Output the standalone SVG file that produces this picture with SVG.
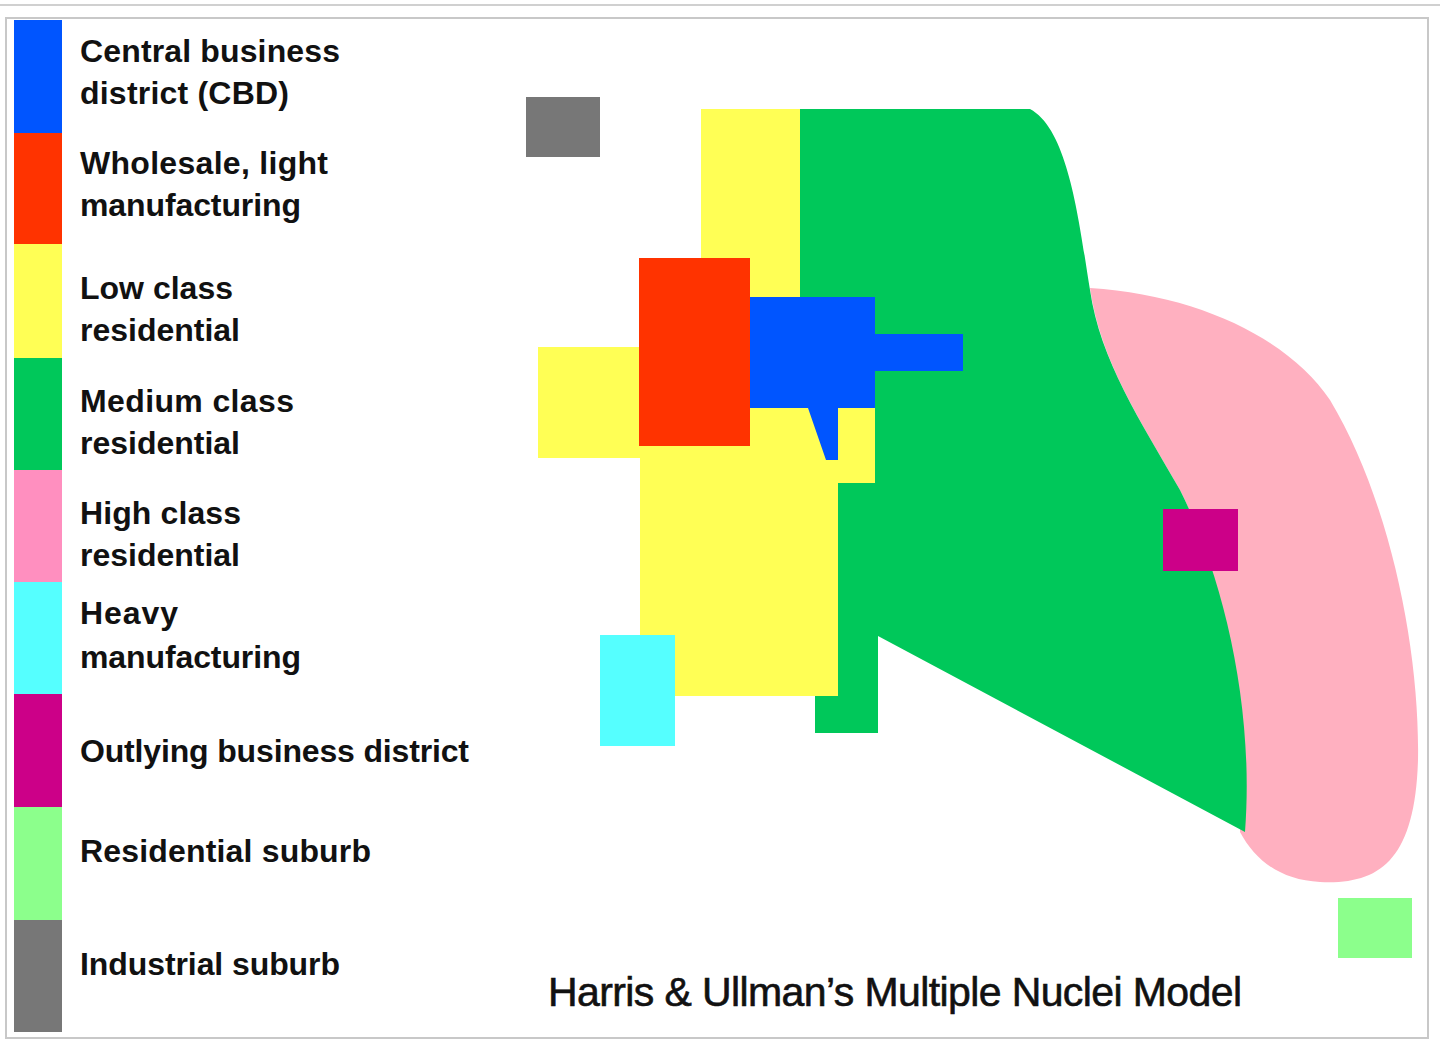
<svg xmlns="http://www.w3.org/2000/svg" width="1440" height="1044" viewBox="0 0 1440 1044">
<style>
.t{font-family:"Liberation Sans",Arial,sans-serif;font-size:32px;font-weight:bold;fill:#111}
.title{font-family:"Liberation Sans",Arial,sans-serif;font-size:41px;fill:#111;stroke:#111;stroke-width:0.6}
</style>
<rect width="1440" height="1044" fill="#fff"/>
<line x1="0" y1="5" x2="1440" y2="5" stroke="#d0d0d0" stroke-width="2"/>
<rect x="6" y="18" width="1422" height="1020" fill="#fff" stroke="#c8c8c8" stroke-width="2"/>
<g id="legend">
<rect x="14" y="20" width="48" height="114" fill="#0055ff"/>
<rect x="14" y="133" width="48" height="112" fill="#ff3300"/>
<rect x="14" y="244" width="48" height="115" fill="#ffff55"/>
<rect x="14" y="358" width="48" height="113" fill="#00c85a"/>
<rect x="14" y="470" width="48" height="113" fill="#ff8fbf"/>
<rect x="14" y="582" width="48" height="113" fill="#55ffff"/>
<rect x="14" y="694" width="48" height="114" fill="#cc0088"/>
<rect x="14" y="807" width="48" height="114" fill="#8cff8c"/>
<rect x="14" y="920" width="48" height="112" fill="#777"/>
<text class="t" x="80" y="62" textLength="260">Central business</text>
<text class="t" x="80" y="104" textLength="209">district (CBD)</text>
<text class="t" x="80" y="174" textLength="248">Wholesale, light</text>
<text class="t" x="80" y="216" textLength="221">manufacturing</text>
<text class="t" x="80" y="299" textLength="153">Low class</text>
<text class="t" x="80" y="341" textLength="160">residential</text>
<text class="t" x="80" y="412" textLength="214">Medium class</text>
<text class="t" x="80" y="454" textLength="160">residential</text>
<text class="t" x="80" y="524" textLength="161">High class</text>
<text class="t" x="80" y="566" textLength="160">residential</text>
<text class="t" x="80" y="624" textLength="98">Heavy</text>
<text class="t" x="80" y="668" textLength="221">manufacturing</text>
<text class="t" x="80" y="762" textLength="389">Outlying business district</text>
<text class="t" x="80" y="862" textLength="291">Residential suburb</text>
<text class="t" x="80" y="975" textLength="260">Industrial suburb</text>
</g>
<g id="map">
<path d="M1090,288 C1200,295 1290,340 1330,400 C1390,500 1420,650 1418,760 C1415,860 1380,885 1320,882 C1280,880 1255,860 1240,832 C1250,700 1220,570 1180,490 C1140,420 1100,360 1090,288 Z" fill="#ffb0c0"/>
<path d="M800,109 L1030,109 C1070,130 1080,230 1090,290 C1100,360 1140,420 1180,490 C1220,570 1255,700 1245,832 L878,636 L878,733 L815,733 L815,696 L838,696 L838,483 L800,483 Z" fill="#00c85a"/>
<rect x="701" y="109" width="99" height="300" fill="#ffff55"/>
<rect x="538" y="347" width="110" height="111" fill="#ffff55"/>
<rect x="640" y="400" width="198" height="296" fill="#ffff55"/>
<rect x="836" y="400" width="39" height="83" fill="#ffff55"/>
<rect x="639" y="258" width="111" height="188" fill="#ff3300"/>
<path d="M750,297 L875,297 L875,334 L963,334 L963,371 L875,371 L875,408 L838,408 L838,460 L826,460 L808,408 L750,408 Z" fill="#0055ff"/>
<rect x="526" y="97" width="74" height="60" fill="#777"/>
<rect x="1163" y="509" width="75" height="62" fill="#cc0088"/>
<rect x="600" y="635" width="75" height="111" fill="#55ffff"/>
<rect x="1338" y="898" width="74" height="60" fill="#8cff8c"/>
<text class="title" x="548" y="1006" textLength="694">Harris &amp; Ullman’s Multiple Nuclei Model</text>
</g>
</svg>
